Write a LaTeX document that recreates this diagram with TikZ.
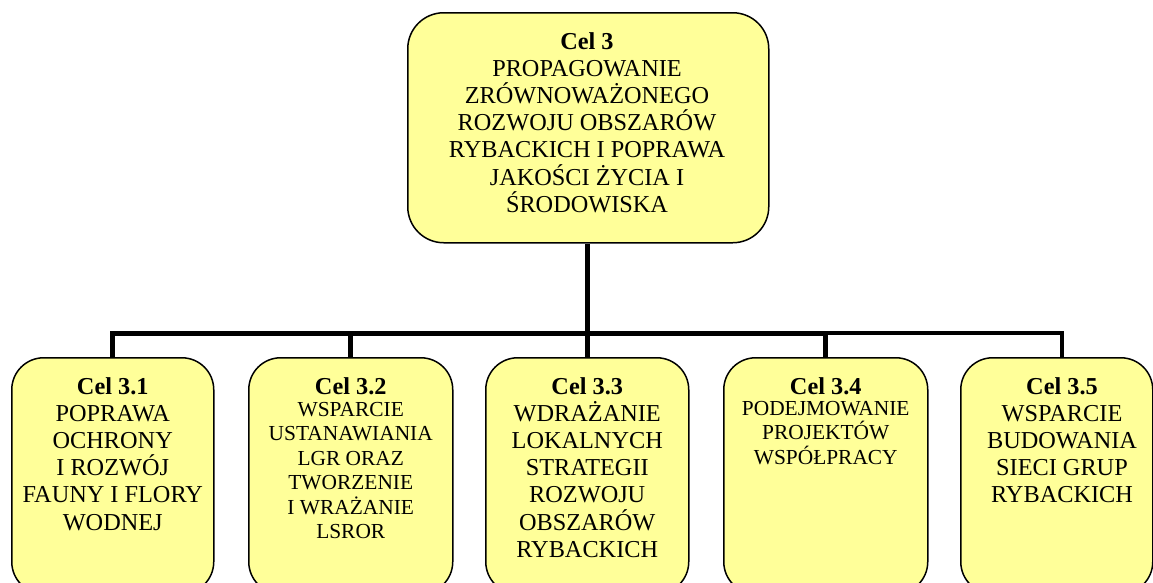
\documentclass[tikz,border=0pt]{standalone}
\usepackage{fontspec}
\setmainfont{Liberation Serif}
\begin{document}
\begin{tikzpicture}[x=1pt,y=-1pt,
  box/.style={draw=black,line width=1.5pt,fill=boxfill,rounded corners=#1,inner sep=0pt,anchor=north west},
  box/.default=32pt,
  lbl/.style={align=center,inner sep=0pt,anchor=north},
  big/.style={font=\fontsize{24.3}{27.2}\selectfont},
  small/.style={font=\fontsize{21.4}{24.5}\selectfont},
  conn/.style={line width=5pt},
  connthin/.style={line width=3.5pt}]
\definecolor{boxfill}{HTML}{FFFF99}
\useasboundingbox (0,0) rectangle (1153,582);
\begin{scope}
\clip (0,0) rectangle (1153,582);
% top box
\node[box=36pt,minimum width=361pt,minimum height=230pt] (top) at (407,12) {};
% bottom boxes
\node[box,minimum width=202pt,minimum height=236pt] (b1) at (11,357) {};
\node[box,minimum width=204pt,minimum height=236pt] (b2) at (248,357) {};
\node[box,minimum width=203pt,minimum height=236pt] (b3) at (485,357) {};
\node[box,minimum width=204pt,minimum height=236pt] (b4) at (723,357) {};
\node[box,minimum width=192pt,minimum height=236pt] (b5) at (960,357) {};
\end{scope}
\coordinate (j) at (587,333);
\coordinate (d5) at (1062,357);
% connectors
\draw[conn] (top.south -| j) -- (b3.north -| j);
\draw[conn] (b1.north) -- (b1.north |- j) -- (b4.north |- j) -- (b4.north);
\draw[conn] (b2.north |- j) -- (b2.north);
\draw[connthin] (b4.north |- j) -| (d5);
% texts
\node[lbl,big] (t0) at (587,32) {\textbf{Cel 3}\\PROPAGOWANIE\\ZRÓWNOWAŻONEGO\\ROZWOJU OBSZARÓW\\RYBACKICH I POPRAWA\\JAKOŚCI ŻYCIA I\\ŚRODOWISKA};
\node[lbl,big] (t1) at (b1.north |- 0,377) {\textbf{Cel 3.1}\\POPRAWA\\OCHRONY\\I ROZWÓJ\\FAUNY I FLORY\\WODNEJ};
\node[lbl,big] (t2h) at (b2.north |- 0,377) {\textbf{Cel 3.2}};
\node[lbl,small] (t2) at (b2.north |- 0,402) {WSPARCIE\\USTANAWIANIA\\LGR ORAZ\\TWORZENIE\\I WRAŻANIE\\LSROR};
\node[lbl,big] (t3) at (b3.north |- 0,377) {\textbf{Cel 3.3}\\WDRAŻANIE\\LOKALNYCH\\STRATEGII\\ROZWOJU\\OBSZARÓW\\RYBACKICH};
\node[lbl,big] (t4h) at (b4.north |- 0,377) {\textbf{Cel 3.4}};
\node[lbl,small] (t4) at (b4.north |- 0,401) {PODEJMOWANIE\\PROJEKTÓW\\WSPÓŁPRACY};
\node[lbl,big] (t5) at (d5 |- 0,377) {\textbf{Cel 3.5}\\WSPARCIE\\BUDOWANIA\\SIECI GRUP\\RYBACKICH};
\end{tikzpicture}
\end{document}
